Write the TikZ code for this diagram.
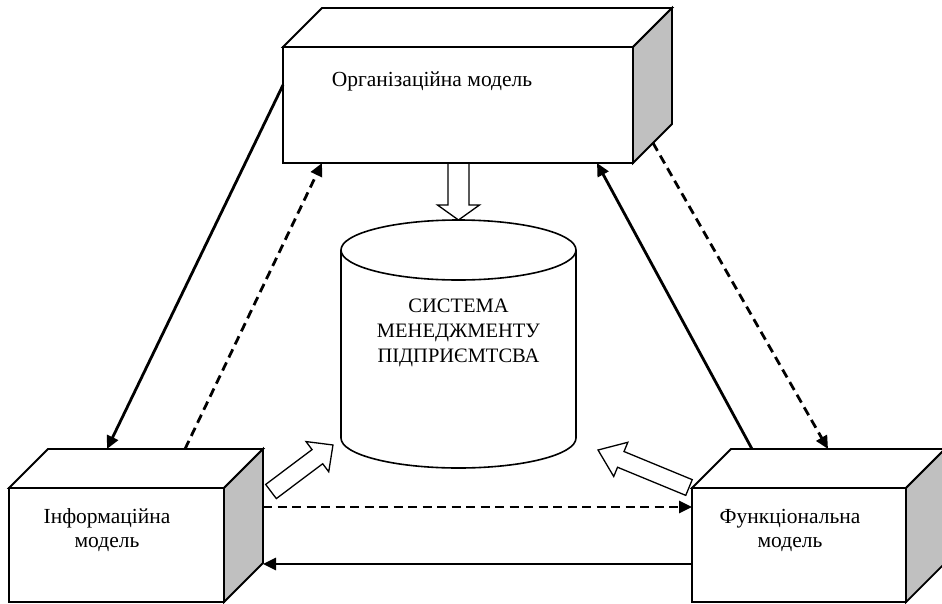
\documentclass[tikz,border=0pt]{standalone}
\usepackage{fontspec}
\setmainfont{Liberation Serif}
\usetikzlibrary{arrows.meta,calc}
\definecolor{sidegray}{RGB}{192,192,192}
\newcommand\cubesides[1]{%
  \draw[cubeline, fill=white] (#1.north west) -- ++(39,-39) -- ($(#1.north east)+(39,-39)$) -- (#1.north east) -- cycle;
  \draw[cubeline, fill=sidegray] (#1.north east) -- ++(39,-39) -- ($(#1.south east)+(39,-39)$) -- (#1.south east) -- cycle;
}
% tail, angle, length, shaft width, head width, head length
\newcommand\blockarrow[6]{%
  \begin{scope}[shift={#1}, rotate=#2]
    \draw[barrow] (0,-#4/2) -- (#3-#6,-#4/2) -- (#3-#6,-#5/2) -- (#3,0) -- (#3-#6,#5/2) -- (#3-#6,#4/2) -- (0,#4/2) -- cycle;
  \end{scope}}
\begin{document}
\begin{tikzpicture}[x=1pt,y=-1pt,
  cubeline/.style={draw, line width=1.8pt, line join=miter},
  front/.style={cubeline, fill=white, inner sep=0pt, outer sep=0pt, rectangle},
  barrow/.style={draw, line width=1.3pt, fill=white, line join=miter},
  cyline/.style={draw, line width=1.6pt},
  lbl/.style={font=\fontsize{21.5pt}{24pt}\selectfont, align=center, inner sep=0pt},
  cyllbl/.style={font=\fontsize{20.5pt}{25pt}\selectfont, align=center, inner sep=0pt},
  solidarr/.style={line width=2.8pt, -{Triangle[length=13pt,width=12pt]}},
  dasharr/.style={line width=2.8pt, dash pattern=on 9pt off 5.5pt, -{Triangle[length=13pt,width=12pt]}}]
\useasboundingbox (0,0) rectangle (942,603);
\clip (0,0) rectangle (942,603);

% cylinder
\node[minimum width=235pt, minimum height=248pt, inner sep=0pt] (cyl) at (458.5,344) {};
\draw[cyline, fill=white] (341,250) -- (341,438) arc[start angle=180, end angle=360, x radius=117.5pt, y radius=30pt] -- (576,250);
\draw[cyline] (458.5,250) ellipse[x radius=117.5pt, y radius=30pt];
\node[cyllbl] (cyltxt) at (458.5,333) {СИСТЕМА\\МЕНЕДЖМЕНТУ\\ПІДПРИЄМТСВА};

% block arrows
\blockarrow{(458.5,163)}{-90}{57}{21}{42}{15}
\blockarrow{(271,491.5)}{36.9}{77.5}{17.7}{37.8}{19.5}
\blockarrow{(689,487.5)}{157.6}{98.4}{17}{37}{24.6}

% boxes
\node[front, minimum width=350pt, minimum height=116pt] (org) at (458,105) {};
\cubesides{org}
\node[front, minimum width=215pt, minimum height=114pt] (inf) at (116.5,545) {};
\cubesides{inf}
\node[front, minimum width=214pt, minimum height=114pt] (fun) at (799,545) {};
\cubesides{fun}

\node[lbl, anchor=base] (orgtxt) at (432,86) {Організаційна модель};
\node[lbl] (inftxt) at (107,530) {Інформаційна\\модель};
\node[lbl] (funtxt) at (790,530) {Функціональна\\модель};

% connectors
\draw[solidarr] ($(org.north west)+(0,38)$) -- ($(inf.north west)+(98,-39)$);
\draw[dasharr] ($(inf.north west)+(176,-39)$) -- ($(org.south west)+(39,0)$);
\draw[solidarr] ($(fun.north west)+(60,-39)$) -- ($(org.south west)+(314,0)$);
\draw[dasharr] ($(org.south east)+(20,-20)$) -- ($(fun.north west)+(136,-39)$);
\draw[dasharr] ($(inf.north east)+(39,19)$) -- ($(fun.north west)+(0,19)$);
\draw[solidarr] ($(fun.north west)+(0,76)$) -- ($(inf.north east)+(39,76)$);
\end{tikzpicture}
\end{document}
